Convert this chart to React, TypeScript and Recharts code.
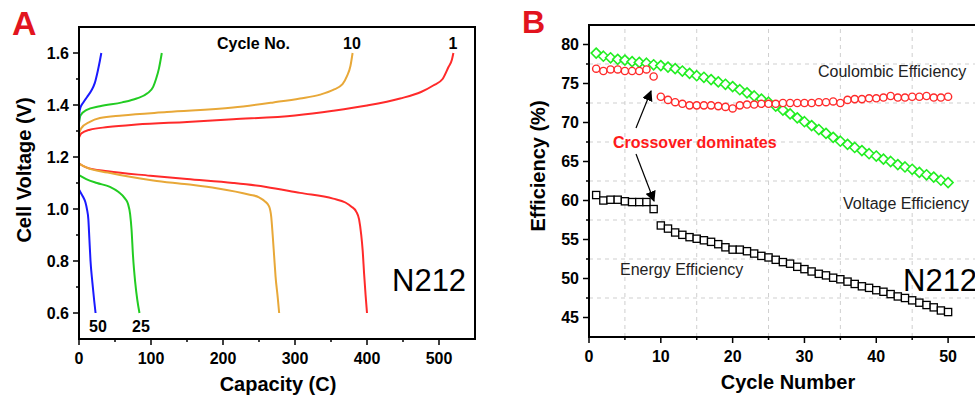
import { LineChart, Line, XAxis, YAxis, ReferenceArea, ReferenceLine } from "recharts";

// ---- Panel A: charge / discharge curves, [capacity (C), voltage (V)]
const charge1: [number, number][] = [
  [0, 1.275], [3, 1.29], [15, 1.305], [40, 1.315], [80, 1.325], [150, 1.335], [214, 1.345],
  [300, 1.36], [353, 1.378], [400, 1.398], [446, 1.425], [475, 1.45], [492, 1.475],
  [505, 1.5], [513, 1.545], [518, 1.575], [520, 1.6],
];
const charge10: [number, number][] = [
  [0, 1.29], [3, 1.31], [15, 1.335], [29, 1.35], [60, 1.36], [122, 1.373], [214, 1.39],
  [270, 1.41], [307, 1.425], [335, 1.44], [353, 1.458], [366, 1.48], [372, 1.51],
  [377, 1.55], [380, 1.6],
];
const charge25: [number, number][] = [
  [0, 1.33], [2, 1.36], [10, 1.38], [29, 1.395], [60, 1.41], [80, 1.425], [95, 1.445],
  [103, 1.47], [107, 1.5], [111, 1.54], [115, 1.6],
];
const charge50: [number, number][] = [
  [0, 1.33], [0.5, 1.37], [2, 1.39], [6, 1.41], [11, 1.43], [17, 1.455], [22, 1.485],
  [26, 1.53], [29, 1.57], [31, 1.6],
];
const discharge1: [number, number][] = [
  [0, 1.175], [10, 1.16], [40, 1.145], [99, 1.128], [150, 1.115], [214, 1.1], [260, 1.085],
  [307, 1.062], [353, 1.04], [370, 1.025], [378, 1.01], [385, 0.99], [389, 0.96],
  [392, 0.9], [394, 0.84], [396, 0.75], [398, 0.67], [400, 0.6],
];
const discharge10: [number, number][] = [
  [0, 1.175], [10, 1.16], [40, 1.14], [103, 1.11], [150, 1.095], [191, 1.08], [237, 1.055],
  [250, 1.045], [258, 1.03], [264, 1.01], [267, 0.97], [269, 0.9], [271, 0.82],
  [273, 0.74], [276, 0.66], [278, 0.6],
];
const discharge25: [number, number][] = [
  [0, 1.13], [10, 1.115], [25, 1.1], [43, 1.085], [55, 1.065], [64, 1.04], [68, 1.02],
  [71, 0.98], [73, 0.92], [75, 0.82], [78, 0.72], [81, 0.65], [84, 0.6],
];
const discharge50: [number, number][] = [
  [0, 1.075], [3, 1.06], [6, 1.045], [9, 1.025], [11, 1.0], [13, 0.96], [14.5, 0.88],
  [16, 0.8], [18.5, 0.72], [21, 0.65], [23, 0.6],
];

const capTicks = [0, 50, 100, 150, 200, 250, 300, 350, 400, 450, 500];
const capMajor = [0, 100, 200, 300, 400, 500];
const voltTicks = [0.6, 0.7, 0.8, 0.9, 1.0, 1.1, 1.2, 1.3, 1.4, 1.5, 1.6];
const voltMajor = [0.6, 0.8, 1.0, 1.2, 1.4, 1.6];

// ---- Panel B: efficiencies vs cycle
const cycles = [
  1, 2, 3, 4, 5, 6, 7, 8, 9, 10, 11, 12, 13, 14, 15, 16, 17, 18, 19, 20, 21, 22, 23, 24, 25,
  26, 27, 28, 29, 30, 31, 32, 33, 34, 35, 36, 37, 38, 39, 40, 41, 42, 43, 44, 45, 46, 47, 48, 49, 50,
];
const coulombic = [
  76.9, 76.6, 76.8, 76.8, 76.6, 76.6, 76.6, 76.8, 75.9, 73.3,
  72.9, 72.6, 72.4, 72.2, 72.2, 72.2, 72.2, 72.1, 72.0, 71.8,
  72.2, 72.3, 72.3, 72.4, 72.4, 72.4, 72.5, 72.5, 72.5, 72.5,
  72.5, 72.6, 72.6, 72.7, 72.5, 72.9, 73.0, 73.0, 73.1, 73.1,
  73.2, 73.4, 73.2, 73.2, 73.3, 73.3, 73.4, 73.2, 73.2, 73.3,
];
const voltageEff = [
  78.9, 78.5, 78.3, 78.1, 78.0, 77.8, 77.7, 77.6, 77.4, 77.3,
  77.1, 76.9, 76.6, 76.3, 76.0, 75.8, 75.5, 75.2, 74.9, 74.6,
  74.2, 73.8, 73.4, 73.0, 72.6, 72.1, 71.6, 71.1, 70.6, 70.1,
  69.6, 69.1, 68.6, 68.1, 67.6, 67.2, 66.8, 66.4, 66.0, 65.7,
  65.3, 65.0, 64.6, 64.3, 64.0, 63.6, 63.3, 63.0, 62.6, 62.3,
];
const energyEff = [
  60.7, 60.0, 60.1, 60.1, 59.9, 59.8, 59.8, 59.8, 58.9, 56.8,
  56.4, 55.9, 55.6, 55.3, 55.1, 54.9, 54.7, 54.4, 54.0, 53.7,
  53.7, 53.5, 53.2, 52.9, 52.7, 52.4, 52.1, 51.9, 51.5, 51.2,
  50.9, 50.6, 50.4, 50.1, 49.9, 49.6, 49.3, 49.0, 48.8, 48.5,
  48.3, 48.0, 47.7, 47.5, 47.2, 46.9, 46.6, 46.3, 45.9, 45.7,
];

const cycleTicks = [0, 5, 10, 15, 20, 25, 30, 35, 40, 45, 50];
const cycleMajor = [0, 10, 20, 30, 40, 50];
const effTicks = [45, 47.5, 50, 52.5, 55, 57.5, 60, 62.5, 65, 67.5, 70, 72.5, 75, 77.5, 80];
const effMajor = [45, 50, 55, 60, 65, 70, 75, 80];
const gridX = [5, 15, 25, 35, 45];
const gridY = [47.5, 52.5, 57.5, 62.5, 67.5, 72.5, 77.5];

const FONT = "'Liberation Sans', Arial, sans-serif";
const RED = "#ff2a2a";
const ORANGE = "#e8a838";
const GREEN = "#22cc22";
const BLUE = "#1a1aff";

const toPts = (arr: [number, number][]) => arr.map(([c, v]) => ({ c, v }));
const isMajor = (list: number[], v: number) => list.some((m) => Math.abs(m - v) < 1e-6);

function xTick(majors: number[]) {
  return (props: any) => {
    const { x, y, payload } = props;
    const major = isMajor(majors, payload.value);
    return (
      <g>
        <line x1={x} x2={x} y1={y} y2={y + (major ? 6 : 3)} stroke="#000" strokeWidth={1.5} />
        {major && (
          <text x={x} y={y + 25} textAnchor="middle" fontSize={16} fontWeight="bold" fontFamily={FONT} fill="#000">
            {payload.value}
          </text>
        )}
      </g>
    );
  };
}

function yTick(majors: number[], fmt: (v: number) => string) {
  return (props: any) => {
    const { x, y, payload } = props;
    const major = isMajor(majors, payload.value);
    return (
      <g>
        <line x1={x} x2={x - (major ? 6 : 3)} y1={y} y2={y} stroke="#000" strokeWidth={1.5} />
        {major && (
          <text x={x - 10} y={y} dy="0.36em" textAnchor="end" fontSize={16} fontWeight="bold" fontFamily={FONT} fill="#000">
            {fmt(payload.value)}
          </text>
        )}
      </g>
    );
  };
}

const circleDot = (p: any) => (
  <circle key={p.key} cx={p.cx} cy={p.cy} r={3.6} fill="#fff" stroke={RED} strokeWidth={1.4} />
);
const diamondDot = (p: any) => (
  <path
    key={p.key}
    d={`M${p.cx},${p.cy - 5} L${p.cx + 5},${p.cy} L${p.cx},${p.cy + 5} L${p.cx - 5},${p.cy} Z`}
    fill="#fff"
    stroke="#22ee22"
    strokeWidth={1.6}
  />
);
const squareDot = (p: any) => (
  <rect key={p.key} x={p.cx - 3.6} y={p.cy - 3.6} width={7.2} height={7.2} fill="#fff" stroke="#000" strokeWidth={1.3} />
);

function PanelA() {
  const curves = [
    { d: charge1, c: RED }, { d: charge10, c: ORANGE }, { d: charge25, c: GREEN }, { d: charge50, c: BLUE },
    { d: discharge1, c: RED }, { d: discharge10, c: ORANGE }, { d: discharge25, c: GREEN }, { d: discharge50, c: BLUE },
  ];
  return (
    <LineChart width={490} height={395} margin={{ top: 27, right: 15, bottom: 0, left: 0 }}>
      <XAxis
        dataKey="c" type="number" domain={[0, 550]} ticks={capTicks} interval={0}
        height={56} tickSize={0} tickMargin={0} tickLine={false}
        axisLine={{ stroke: "#000", strokeWidth: 2 }} tick={xTick(capMajor)}
      />
      <YAxis
        dataKey="v" type="number" domain={[0.5, 1.7]} ticks={voltTicks} interval={0}
        width={79} tickSize={0} tickMargin={0} tickLine={false}
        axisLine={{ stroke: "#000", strokeWidth: 2 }} tick={yTick(voltMajor, (v) => v.toFixed(1))}
      />
      <ReferenceArea x1={0} x2={550} y1={0.5} y2={1.7} fill="none" stroke="#000" strokeWidth={2} ifOverflow="visible" />
      {curves.map((s, i) => (
        <Line
          key={i} data={toPts(s.d)} dataKey="v" type="monotone" stroke={s.c} strokeWidth={2}
          dot={false} activeDot={false} isAnimationActive={false}
        />
      ))}
    </LineChart>
  );
}

function PanelB() {
  const rows = cycles.map((n, i) => ({ n, ce: coulombic[i], ve: voltageEff[i], ee: energyEff[i] }));
  return (
    <LineChart width={509} height={395} data={rows} margin={{ top: 25, right: 15, bottom: 0, left: 0 }}>
      <XAxis
        dataKey="n" type="number" domain={[0, 55]} ticks={cycleTicks} interval={0}
        height={58} tickSize={0} tickMargin={0} tickLine={false}
        axisLine={{ stroke: "#000", strokeWidth: 2 }} tick={xTick(cycleMajor)}
      />
      <YAxis
        type="number" domain={[42.5, 82.5]} ticks={effTicks} interval={0}
        width={99} tickSize={0} tickMargin={0} tickLine={false}
        axisLine={{ stroke: "#000", strokeWidth: 2 }} tick={yTick(effMajor, (v) => String(v))}
      />
      {gridX.map((g) => (
        <ReferenceLine key={"gx" + g} x={g} stroke="#cfcfcf" strokeDasharray="4 4" strokeWidth={1} />
      ))}
      {gridY.map((g) => (
        <ReferenceLine key={"gy" + g} y={g} stroke="#cfcfcf" strokeDasharray="4 4" strokeWidth={1} />
      ))}
      <ReferenceArea x1={0} x2={55} y1={42.5} y2={82.5} fill="none" stroke="#000" strokeWidth={2} ifOverflow="visible" />
      <Line dataKey="ve" stroke="none" dot={diamondDot} activeDot={false} isAnimationActive={false} />
      <Line dataKey="ce" stroke="none" dot={circleDot} activeDot={false} isAnimationActive={false} />
      <Line dataKey="ee" stroke="none" dot={squareDot} activeDot={false} isAnimationActive={false} />
    </LineChart>
  );
}

function Overlay() {
  const bold = { fontFamily: FONT, fontWeight: "bold" as const };
  const norm = { fontFamily: FONT };
  return (
    <svg width={975} height={395} style={{ position: "absolute", left: 0, top: 0, pointerEvents: "none" }}>
      <defs>
        <marker id="arrowHead" viewBox="0 0 10 10" refX="9" refY="5" markerWidth="9" markerHeight="9" orient="auto-start-reverse">
          <path d="M0,0 L10,5 L0,10 Z" fill="#000" />
        </marker>
      </defs>
      {/* panel letters */}
      <text x={12} y={35} fontSize={34} fill="#e2141e" {...bold}>A</text>
      <text x={522} y={33} fontSize={32} fill="#e2141e" {...bold}>B</text>

      {/* panel A annotations */}
      <text x={217} y={49} fontSize={16} fill="#000" {...bold}>Cycle No.</text>
      <text x={352} y={49} fontSize={16} fill="#000" textAnchor="middle" {...bold}>10</text>
      <text x={453} y={49} fontSize={16} fill="#000" textAnchor="middle" {...bold}>1</text>
      <text x={98} y={332} fontSize={16} fill="#000" textAnchor="middle" {...bold}>50</text>
      <text x={141} y={332} fontSize={16} fill="#000" textAnchor="middle" {...bold}>25</text>
      <text x={392} y={291} fontSize={31} fill="#000" {...norm}>N212</text>
      <text x={278} y={391} fontSize={20} fill="#000" textAnchor="middle" {...bold}>Capacity (C)</text>
      <text transform="translate(31,170) rotate(-90)" fontSize={20} fill="#000" textAnchor="middle" {...bold}>
        Cell Voltage (V)
      </text>

      {/* panel B annotations */}
      <text x={818} y={77} fontSize={16} fill="#222" {...norm}>Coulombic Efficiency</text>
      <text x={843} y={209} fontSize={16} fill="#222" {...norm}>Voltage Efficiency</text>
      <text x={620} y={275} fontSize={16} fill="#222" {...norm}>Energy Efficiency</text>
      <text x={613} y={148} fontSize={16} fill="#ff1a1a" {...bold}>Crossover dominates</text>
      <text x={903} y={291} fontSize={31} fill="#000" {...norm}>N212</text>
      <text x={788} y={389} fontSize={20} fill="#000" textAnchor="middle" {...bold}>Cycle Number</text>
      <text transform="translate(545,166) rotate(-90)" fontSize={20} fill="#000" textAnchor="middle" {...bold}>
        Efficiency (%)
      </text>
      <line x1={636} y1={128} x2={651} y2={91} stroke="#000" strokeWidth={1.2} markerEnd="url(#arrowHead)" />
      <line x1={636} y1={154} x2={654} y2={201} stroke="#000" strokeWidth={1.2} markerEnd="url(#arrowHead)" />
    </svg>
  );
}

export default function App() {
  return (
    <div
      style={{
        position: "absolute", left: 0, top: 0, width: 975, height: 395,
        overflow: "hidden", background: "#fff", fontFamily: FONT,
      }}
    >
      <div style={{ position: "absolute", left: 0, top: 0 }}>
        <PanelA />
      </div>
      <div style={{ position: "absolute", left: 490, top: 0 }}>
        <PanelB />
      </div>
      <Overlay />
    </div>
  );
}
